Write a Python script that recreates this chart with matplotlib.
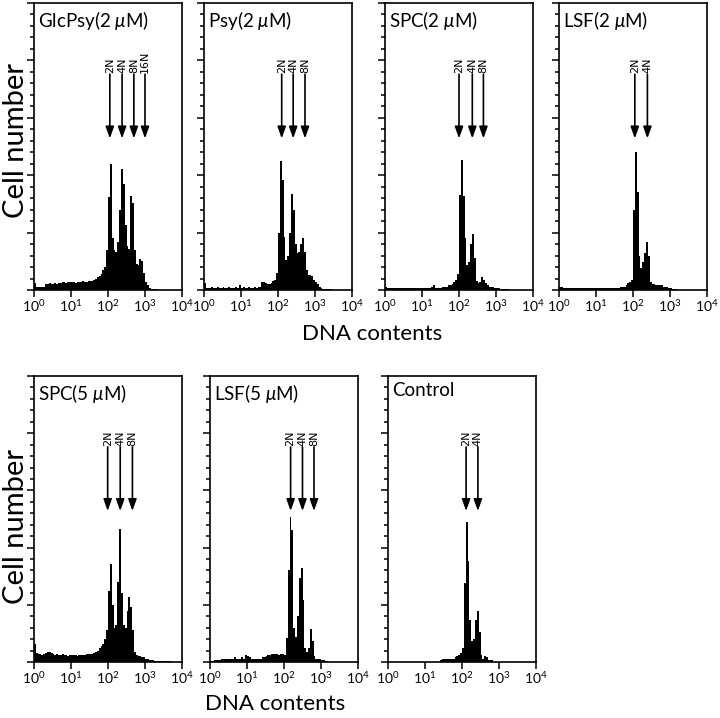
import numpy as np
import matplotlib
matplotlib.use('Agg')
import matplotlib.pyplot as plt
from matplotlib.ticker import MultipleLocator, LogLocator, NullFormatter

plt.rcParams['font.family'] = ['Lato', 'DejaVu Sans']
plt.rcParams['mathtext.fontset'] = 'custom'
plt.rcParams['mathtext.rm'] = 'Lato'
plt.rcParams['mathtext.it'] = 'Lato:italic'

# --- DATA (cell counts per log channel, 20 channels per decade, 10^0..10^4) ---
TITLES = ['GlcPsy(2 $\\mu$M)', 'Psy(2 $\\mu$M)', 'SPC(2 $\\mu$M)', 'LSF(2 $\\mu$M)',
          'SPC(5 $\\mu$M)', 'LSF(5 $\\mu$M)', 'Control']

glcpsy_2 = [6, 3, 3, 3, 3, 3,
            5, 5, 6, 5, 5, 6, 5, 6, 6,
            7, 7, 6, 7, 7, 7, 7, 6, 7, 7, 7, 8, 7, 7, 8, 8, 8,
            9, 10, 11, 12, 14, 17, 20,
            35, 81, 110, 45, 35, 33, 42, 70, 105, 92, 57, 38, 36, 82, 76, 35,
            23, 22, 27, 25, 15, 7, 4, 2, 1,
            1, 1, 1, 0, 0, 0, 0, 0, 0, 0, 0, 0, 0, 0, 0, 0]
psy_2 = [6, 2, 2, 2, 3, 2,
         2, 3, 2, 2, 3, 2, 2, 3, 2,
         2, 2, 3, 2, 4, 2, 3, 2, 2, 3, 2, 2, 3, 2, 3, 3, 7,
         7, 6, 5, 5, 6, 8, 9,
         15, 50, 112, 96, 46, 26, 30, 50, 84, 70, 40, 32, 33, 40, 45, 33,
         17, 13, 13, 12, 9, 7, 5, 3, 2,
         1, 1, 1, 1, 1, 0, 0, 0, 0, 0, 0, 0, 0, 0, 0, 0]
spc_2 = [3, 2, 2, 2, 2, 2,
         2, 2, 2, 2, 2, 2, 2, 2, 2,
         2, 2, 2, 2, 2, 2, 2, 2, 2, 2, 3, 4, 2, 2, 2, 2, 3,
         3, 3, 4, 4, 5, 7, 9,
         14, 83, 113, 82, 45, 22, 24, 40, 49, 28, 8, 6, 7, 11, 9, 6,
         4, 3, 3, 3, 2, 2, 2, 1, 1,
         1, 1, 1, 0, 0, 0, 0, 0, 0, 0, 0, 0, 0, 0, 0, 0]
lsf_2 = [3, 3, 2, 2, 2, 2,
         2, 2, 2, 2, 2, 2, 2, 2, 2,
         2, 2, 2, 2, 2, 2, 2, 2, 2, 2, 2, 2, 2, 2, 2, 2, 2,
         2, 3, 3, 3, 4, 6, 7,
         9, 70, 120, 85, 30, 19, 24, 32, 42, 30, 7, 5, 5, 4, 4, 4,
         4, 3, 3, 3, 2, 2, 1, 1, 1,
         0, 0, 0, 0, 0, 0, 0, 0, 0, 0, 0, 0, 0, 0, 0, 0]
spc_5 = [16, 8, 7, 7, 6, 7,
         8, 9, 9, 8, 7, 6, 7, 6, 6,
         7, 6, 6, 5, 6, 6, 6, 6, 5, 6, 6, 6, 6, 7, 7, 7, 7,
         8, 9, 10, 12, 14, 16, 20,
         28, 62, 86, 50, 30, 32, 70, 116, 60, 32, 30, 45, 57, 48, 28, 9,
         6, 5, 5, 4, 4, 3, 3, 2, 2,
         2, 1, 1, 1, 1, 1, 1, 1, 1, 1, 0, 0, 0, 0, 0, 0]
lsf_5 = [1, 1, 2, 2, 2, 2,
         3, 3, 3, 3, 3, 3, 3, 4, 3,
         3, 3, 4, 3, 6, 5, 4, 3, 3, 3, 3, 3, 3, 4, 4, 5, 6,
         6, 7, 7, 7, 7, 6, 7,
         7, 6, 21, 80, 127, 115, 30, 22, 40, 73, 82, 54, 12, 9, 12, 29,
         18, 5, 3, 3, 3, 2, 2, 1, 1,
         0, 0, 0, 0, 0, 0, 0, 0, 0, 0, 0, 0, 0, 0, 0, 0]
control = [0, 0, 0, 0, 0, 0, 0, 0, 0, 0, 0, 0, 0, 0, 0, 0, 0, 0, 0, 0,
           0, 0, 0, 0, 0, 0, 0, 0,
           2, 3, 3, 3, 3, 3, 3, 3,
           4, 5, 6, 8, 12, 69, 122, 88, 37, 18, 20, 37, 45, 26, 6, 3, 5, 4, 2, 2, 2,
           0, 0, 0, 0, 0, 0, 0, 0, 0, 0, 0, 0, 0, 0, 0, 0, 0, 0, 0, 0, 0, 0, 0]
COUNTS = [glcpsy_2, psy_2, spc_2, lsf_2, spc_5, lsf_5, control]

# ploidy markers (DNA content position of each arrow)
ARROW_LABELS = [['2N', '4N', '8N', '16N'], ['2N', '4N', '8N'], ['2N', '4N', '8N'],
                ['2N', '4N'], ['2N', '4N', '8N'], ['2N', '4N', '8N'], ['2N', '4N']]
ARROW_POS = [[112, 240, 500, 1000], [126, 257, 537], [100, 229, 457],
             [112, 245], [98, 214, 457], [151, 316, 646], [129, 269]]

XTICKS = [1, 10, 100, 1000, 10000]
XTICK_LABELS = ['$10^{0}$', '$10^{1}$', '$10^{2}$', '$10^{3}$', '$10^{4}$']

# --- LAYOUT (pixels of the 720x718 reference) ---
W, H = 720, 718
PANEL_W = 148
PANEL_BOXES = [(34, 3, 290), (204, 3, 290), (385, 3, 290), (559, 3, 290),
               (34, 376, 662), (210, 376, 662), (388, 376, 662)]

fig = plt.figure(figsize=(7.2, 7.18), dpi=100)
edges = np.logspace(0, 4, 81)

for i, (x0, top, bottom) in enumerate(PANEL_BOXES):
    ax = fig.add_axes([x0 / W, 1 - bottom / H, PANEL_W / W, (bottom - top) / H])
    ax.stairs(COUNTS[i], edges, fill=True, color='black', linewidth=0)
    ax.set_xscale('log')
    ax.set_xlim(1, 10000)
    ax.set_ylim(0, 250)

    ax.set_xticks(XTICKS)
    ax.set_xticklabels(XTICK_LABELS, fontsize=10)
    ax.xaxis.set_minor_locator(LogLocator(base=10, subs=range(2, 10)))
    ax.xaxis.set_minor_formatter(NullFormatter())
    ax.yaxis.set_major_locator(MultipleLocator(50))
    ax.yaxis.set_minor_locator(MultipleLocator(10))
    ax.set_yticklabels([])
    ax.tick_params(which='major', direction='out', length=5, width=1.1, pad=1)
    ax.tick_params(which='minor', direction='out', length=3, width=1.1)
    for sp in ax.spines.values():
        sp.set_linewidth(1.2)

    ax.text(0.03, 0.98, TITLES[i], transform=ax.transAxes, fontsize=13.5,
            ha='left', va='top')

    for lab, xp in zip(ARROW_LABELS[i], ARROW_POS[i]):
        ax.annotate('', xy=(xp, 132), xytext=(xp, 188),
                    arrowprops=dict(arrowstyle='-|>,head_width=0.25,head_length=0.7',
                                    color='black', lw=1.2, shrinkA=0, shrinkB=0))
        ax.text(xp, 189, lab, rotation=90, ha='center', va='bottom', fontsize=8,
                family='DejaVu Sans')

fig.text(16 / W, 1 - 141 / H, 'Cell number', rotation=90, ha='center', va='center', fontsize=21)
fig.text(16 / W, 1 - 526 / H, 'Cell number', rotation=90, ha='center', va='center', fontsize=21)
fig.text(372 / W, 1 - 334 / H, 'DNA contents', ha='center', va='center', fontsize=16)
fig.text(275 / W, 1 - 704 / H, 'DNA contents', ha='center', va='center', fontsize=16)

fig.savefig('out.png', dpi=100)
